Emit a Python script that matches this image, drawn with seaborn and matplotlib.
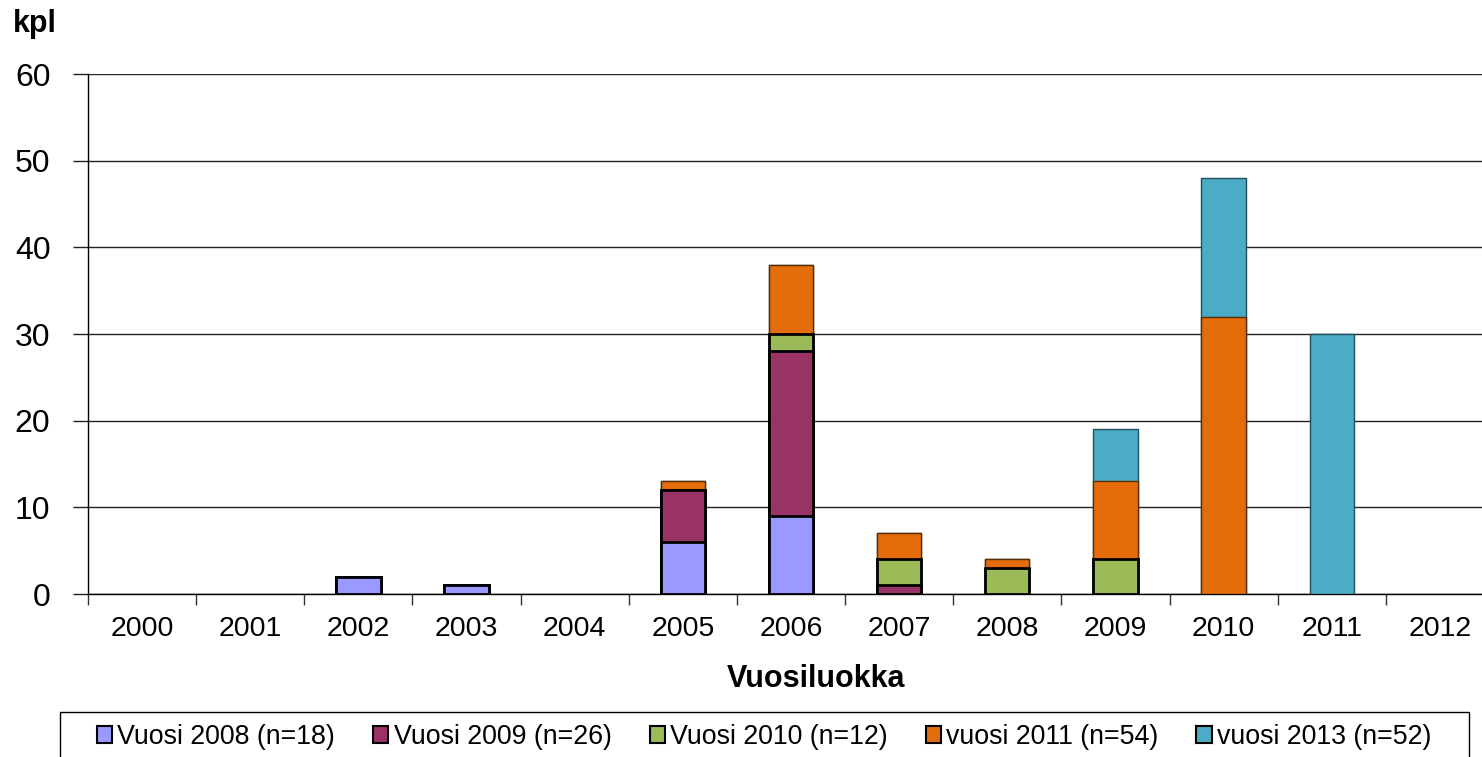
import numpy as np
import pandas as pd
import matplotlib
matplotlib.use("Agg")
import matplotlib.pyplot as plt
import seaborn as sns
from matplotlib.patches import Patch, Rectangle
from matplotlib.ticker import FixedLocator

# ---- data ----
categories = ["2000", "2001", "2002", "2003", "2004", "2005", "2006",
              "2007", "2008", "2009", "2010", "2011", "2012"]
series_names = ["Vuosi 2008 (n=18)", "Vuosi 2009 (n=26)", "Vuosi 2010 (n=12)",
                "vuosi 2011 (n=54)", "vuosi 2013 (n=52)"]
v2008 = [0, 0, 2, 1, 0, 6, 9, 0, 0, 0, 0, 0, 0]
v2009 = [0, 0, 0, 0, 0, 6, 19, 1, 0, 0, 0, 0, 0]
v2010 = [0, 0, 0, 0, 0, 0, 2, 3, 3, 4, 0, 0, 0]
v2011 = [0, 0, 0, 0, 0, 1, 8, 3, 1, 9, 32, 0, 0]
v2013 = [0, 0, 0, 0, 0, 0, 0, 0, 0, 6, 16, 30, 0]
y_ticks = [0, 10, 20, 30, 40, 50, 60]

series_values = [v2008, v2009, v2010, v2011, v2013]
colors = ["#9999FF", "#993366", "#9BBB59", "#E46C0A", "#4BACC6"]
edgecolors = ["black", "black", "black", "#5a2a05", "#1f4f5c"]
linewidths = [2.0, 2.0, 2.0, 1.0, 1.0]

sns.set_theme(style="white")
plt.rcParams["font.family"] = ["Liberation Sans", "DejaVu Sans"]
plt.rcParams["text.color"] = "black"
plt.rcParams["xtick.color"] = "black"
plt.rcParams["ytick.color"] = "black"

W, H = 1482, 757
fig = plt.figure(figsize=(W / 100, H / 100), dpi=100)
ax = fig.add_axes([88 / W, 1 - 594 / H, (1494 - 88) / W, (594 - 74) / H])

cum = np.cumsum(np.array(series_values, dtype=float), axis=0)
# draw cumulative totals from top series down so the lower segments overlay
for i in range(len(series_names) - 1, -1, -1):
    vals = cum[i].copy()
    vals[vals == 0] = np.nan
    df = pd.DataFrame({"cat": categories, "val": vals})
    sns.barplot(data=df, x="cat", y="val", order=categories, ax=ax,
                color=colors[i], saturation=1, width=0.41,
                edgecolor=edgecolors[i], linewidth=linewidths[i], zorder=3)

ax.set_xlim(-0.5, len(categories) - 0.5)
ax.set_ylim(0, 60)
ax.set_yticks(y_ticks)
ax.set_yticklabels([str(t) for t in y_ticks], fontsize=23)
ax.grid(axis="y", color="#222222", linewidth=1.0, zorder=0)
ax.grid(axis="x", visible=False)
ax.set_axisbelow(True)

ax.set_xticks(range(len(categories)))
ax.set_xticklabels(categories, fontsize=20.5)
ax.xaxis.set_minor_locator(FixedLocator(np.arange(-0.5, len(categories), 1.0)))
ax.tick_params(axis="x", which="major", length=0, pad=15.5, labelcolor="black")
ax.tick_params(axis="x", which="minor", length=8, width=1, direction="out",
               color="#333333", bottom=True)
ax.tick_params(axis="y", which="major", length=11, width=1, direction="out",
               color="#222222", pad=16, left=True, labelcolor="black")
ax.set_xlabel("")
ax.set_ylabel("")

for s in ["top", "right"]:
    ax.spines[s].set_visible(False)
for s in ["left", "bottom"]:
    ax.spines[s].set_visible(True)
    ax.spines[s].set_color("black")
    ax.spines[s].set_linewidth(1.0)

fig.text(13 / W, 1 - 24 / H, "kpl", fontsize=22, fontweight="bold",
         ha="left", va="center")
fig.text(816 / W, 1 - 679 / H, "Vuosiluokka", fontsize=22, fontweight="bold",
         ha="center", va="center")

# legend frame (extends below the figure edge, as in the reference)
fig.patches.append(Rectangle((60 / W, -20 / H), (1469 - 60) / W, (757 - 712 + 20) / H,
                             transform=fig.transFigure, fill=False,
                             edgecolor="black", linewidth=1.0))

handles = [Patch(facecolor=c, edgecolor="black", linewidth=1.5) for c in colors]
leg = fig.legend(handles, series_names, loc="center",
                 bbox_to_anchor=(764 / W, 1 - 737 / H),
                 ncol=5, fontsize=19.3, frameon=False,
                 handlelength=0.57, handleheight=0.57, handletextpad=0.19,
                 columnspacing=1.42, borderpad=0, borderaxespad=0)

fig.savefig("out.png", dpi=100)
